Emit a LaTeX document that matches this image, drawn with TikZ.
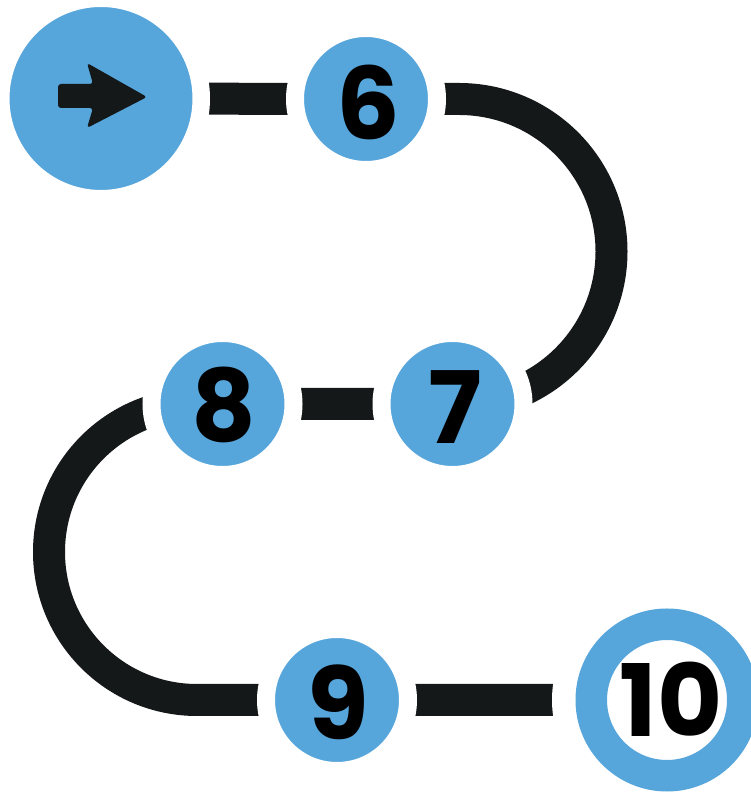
\documentclass[tikz,border=0pt]{standalone}
\usepackage{fontspec}
\setmainfont{Poppins}
\usetikzlibrary{backgrounds}
\definecolor{stepblue}{HTML}{56A5DB}
\definecolor{trackcol}{HTML}{141819}
\tikzset{
  track/.style={draw=trackcol, line width=32pt},
  stepnode/.style={circle, fill=stepblue, draw=white, line width=18pt, minimum size=142pt, inner sep=0pt},
  startnode/.style={circle, fill=stepblue, draw=white, line width=17.5pt, minimum size=200.5pt, inner sep=0pt},
  endnode/.style={circle, preaction={draw=white, line width=78.5pt}, fill=white, draw=stepblue, line width=31.5pt, minimum size=151.5pt, inner sep=0pt},
  numtext/.style={inner sep=0pt, text=black, font=\fontsize{100}{100}\selectfont\bfseries},
  arrowshape/.style={fill=trackcol, rounded corners=3pt}
}
\begin{document}
\begin{tikzpicture}[x=1pt, y=1pt]
\useasboundingbox (0,0) rectangle (751,792);
% nodes
\node[startnode] (S) at (101,693.5) {};
\node[stepnode] (N6) at (366,693) {};
\node[stepnode] (N7) at (452.5,388) {};
\node[stepnode] (N8) at (222.5,388) {};
\node[stepnode] (N9) at (337,92) {};
\node[endnode] (N10) at (667,92) {};
\coordinate (A1) at (459,693);
\coordinate (A2) at (197,388);
% track
\begin{scope}[on background layer]
\draw[track] (S.center) -- (N6.center) -- (A1) arc[start angle=90, end angle=-90, radius=152.5pt] -- (N7.center) -- (N8.center) -- (A2) arc[start angle=90, end angle=270, radius=148pt] -- (N9.center) -- (N10.center);
\end{scope}
% arrow
\fill[arrowshape] (58,708) -- (93,708) -- (87,729) -- (147,695) -- (87,664) -- (93,684) -- (58,684) -- cycle;
% numbers
\node[numtext] (T6) at (368.5,690) {6};
\node[numtext] (T7) at (455.5,385) {7};
\node[numtext] (T8) at (223.5,387.5) {8};
\node[numtext] (T9) at (338.5,90) {9};
\node[numtext] (T10) at (671,93) {10};
\end{tikzpicture}
\end{document}
